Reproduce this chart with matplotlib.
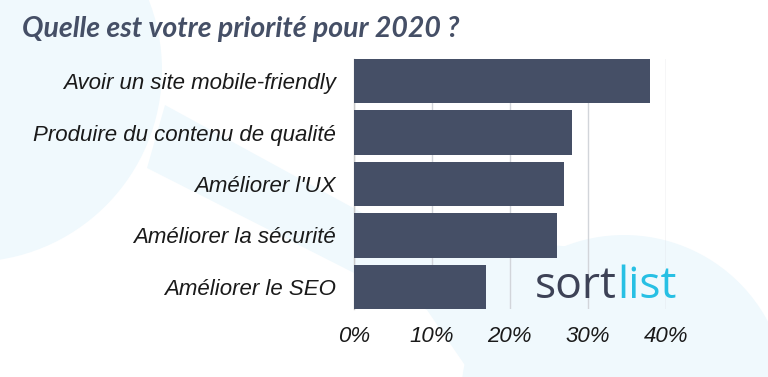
import matplotlib.pyplot as plt
from matplotlib.patches import Circle, Polygon

# data
categories = ["Avoir un site mobile-friendly", "Produire du contenu de qualité",
              "Améliorer l'UX", "Améliorer la sécurité", "Améliorer le SEO"]
values = [38, 28, 27, 26, 17]
xticks = [0, 10, 20, 30, 40]
xtick_labels = ["0%", "10%", "20%", "30%", "40%"]

W, H = 768, 377
bar_color = "#454f66"
bg_color = "#f0f9fd"

fig = plt.figure(figsize=(W / 100, H / 100), dpi=100)
fig.patch.set_facecolor("white")

# background blobs, drawn in pixel coords
bg = fig.add_axes([0, 0, 1, 1], zorder=0)
bg.set_xlim(0, W)
bg.set_ylim(H, 0)
bg.axis("off")
bg.add_patch(Circle((-30, 70), 192, color=bg_color, lw=0))
bg.add_patch(Polygon([(165, 105), (390, 228), (600, 250), (768, 377),
                      (473, 377), (427, 310), (147, 168)],
                     closed=True, color=bg_color, lw=0))
bg.add_patch(Circle((624, 398), 163, color=bg_color, lw=0))

# main chart
left, right, top, bottom = 354, 666, 59, 309
ax = fig.add_axes([left / W, 1 - bottom / H, (right - left) / W, (bottom - top) / H], zorder=1)
ax.patch.set_alpha(0)

ypos = list(range(len(categories)))
ax.barh(ypos, values, height=0.86, color=bar_color, lw=0, zorder=3)
ax.set_ylim(len(categories) - 0.57, -0.43)
ax.set_xlim(0, 40.05)

ax.set_yticks(ypos)
ax.set_yticklabels(categories, fontfamily="Liberation Sans", style="italic",
                   fontsize=16, color="#1a1a1a")
ax.set_xticks(xticks)
ax.set_xticklabels(xtick_labels, fontfamily="Liberation Sans", style="italic",
                   fontsize=16, color="#1a1a1a")
ax.tick_params(axis="y", length=0, pad=13)
ax.tick_params(axis="x", length=0, pad=12)

ax.grid(axis="x", color="#d2d5da", lw=1, zorder=1)
for s in ["top", "right", "bottom"]:
    ax.spines[s].set_visible(False)
ax.spines["left"].set_color("#c8c8c8")
ax.spines["left"].set_linewidth(1)

# title
fig.text(22 / W, 1 - 37 / H, "Quelle est votre priorité pour 2020 ?",
         fontfamily="Lato", fontweight="bold", style="italic", fontsize=20.5,
         color="#454f66", va="baseline", ha="left")

# sortlist logo
fig.text(617 / W, 1 - 298 / H, "sort", fontfamily="Open Sans", fontsize=32,
         color="#3d4256", va="baseline", ha="right", zorder=5)
fig.text(617 / W, 1 - 298 / H, "list", fontfamily="Open Sans", fontsize=32,
         color="#27c0e4", va="baseline", ha="left", zorder=5)

fig.savefig("out.png", dpi=100)
